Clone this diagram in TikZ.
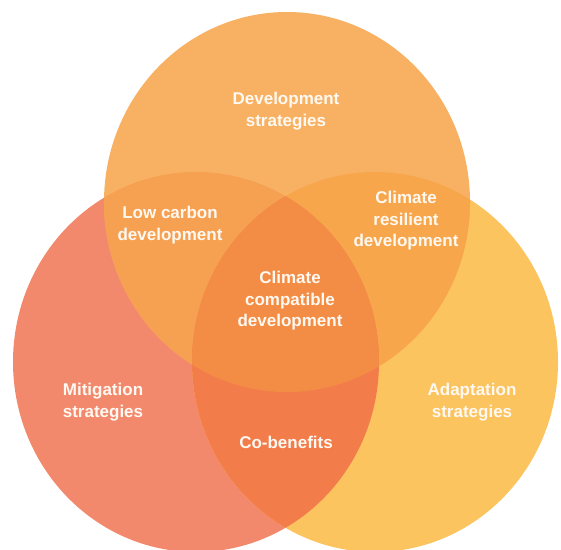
\documentclass[tikz,border=0pt]{standalone}
\usepackage{fontspec}
\setmainfont{Liberation Sans}
\usepackage{tikz}

% Region colours
\definecolor{devcol}{HTML}{F8B162}
\definecolor{mitcol}{HTML}{F2896C}
\definecolor{adacol}{HTML}{FBC45F}
\definecolor{lowcol}{HTML}{F6A052}
\definecolor{rescol}{HTML}{F7A64C}
\definecolor{cobcol}{HTML}{F27C4A}
\definecolor{ccdcol}{HTML}{F38D45}

\tikzset{
  lbl/.style={text=white!95!orange, align=center, font=\fontsize{17}{21.5}\selectfont\bfseries}
}

\begin{document}
\begin{tikzpicture}[x=1pt, y=-1pt]
  \useasboundingbox (0,0) rectangle (561,549);

  % Define the radii and centres of the three sets
  \def\rx{183pt}
  \def\ry{190pt}
  \coordinate (T) at (287,202);
  \coordinate (L) at (196,362);
  \coordinate (R) at (375,362);

  % Fill the single sets
  \fill[mitcol] (L) ellipse [x radius=\rx, y radius=\ry];
  \fill[adacol] (R) ellipse [x radius=\rx, y radius=\ry];
  \fill[devcol] (T) ellipse [x radius=\rx, y radius=\ry];

  % Fill the pairwise overlaps
  \begin{scope}
    \clip (T) ellipse [x radius=\rx, y radius=\ry];
    \fill[lowcol] (L) ellipse [x radius=\rx, y radius=\ry];
    \fill[rescol] (R) ellipse [x radius=\rx, y radius=\ry];
  \end{scope}
  \begin{scope}
    \clip (L) ellipse [x radius=\rx, y radius=\ry];
    \fill[cobcol] (R) ellipse [x radius=\rx, y radius=\ry];
    % the centre
    \clip (R) ellipse [x radius=\rx, y radius=\ry];
    \fill[ccdcol] (T) ellipse [x radius=\rx, y radius=\ry];
  \end{scope}

  % Labels
  \node[lbl] (dev)   at (286,111) {Development\\strategies};
  \node[lbl] (lowc)  at (170,225) {Low carbon\\development};
  \node[lbl] (resil) at (406,221) {Climate\\resilient\\development};
  \node[lbl] (ccd)   at (290,301) {Climate\\compatible\\development};
  \node[lbl] (mitig) at (103,402) {Mitigation\\strategies};
  \node[lbl] (adapt) at (472,402) {Adaptation\\strategies};
  \node[lbl] (cobe)  at (286,442) {Co-benefits};

\end{tikzpicture}
\end{document}
